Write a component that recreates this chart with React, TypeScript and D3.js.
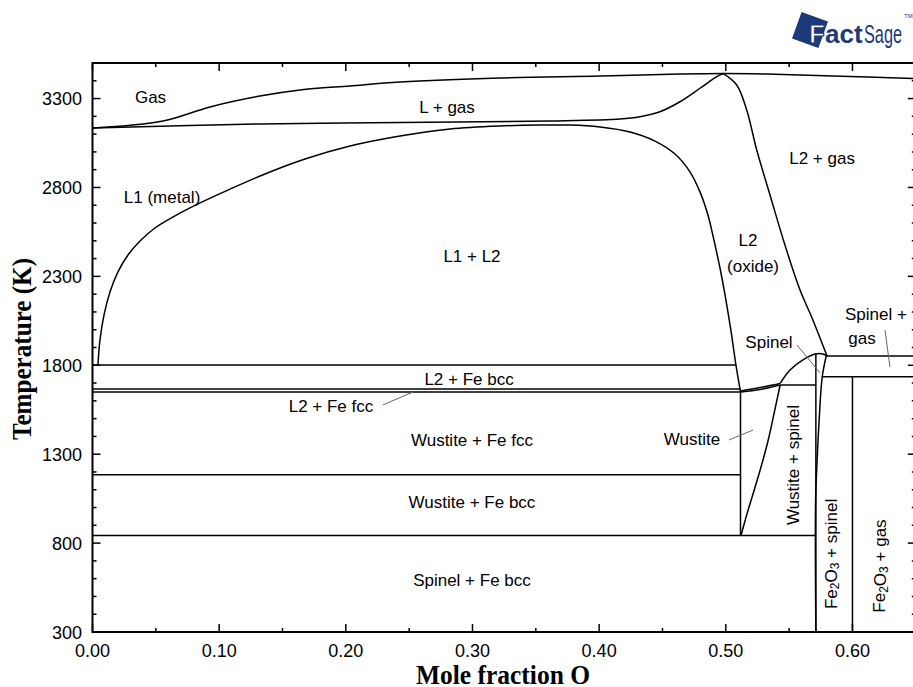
import React from 'react';
import * as d3 from 'd3';

const W = 913;
const H = 687;

// axis definitions
const xMajorTicks = [0, 0.1, 0.2, 0.3, 0.4, 0.5, 0.6];
const xTickLabels = ['0.00', '0.10', '0.20', '0.30', '0.40', '0.50', '0.60'];
const xMinorTicks = [0.05, 0.15, 0.25, 0.35, 0.45, 0.55];
const yMajorTicks = [300, 800, 1300, 1800, 2300, 2800, 3300];
const yMinorTicks = [400, 500, 600, 700, 900, 1000, 1100, 1200, 1400, 1500, 1600, 1700, 1900, 2000, 2100, 2200, 2400, 2500, 2600, 2700, 2900, 3000, 3100, 3200, 3400];

// phase boundaries [x (mole fraction O), T (K)]
const gasDewLine = [
  [0, 3135], [0.0557, 3174], [0.0928, 3253], [0.1322, 3314], [0.1638, 3348], [0.2033, 3371],
  [0.2428, 3393], [0.3217, 3416], [0.4007, 3427], [0.4639, 3438], [0.4978, 3441],
  [0.5325, 3438], [0.5846, 3427], [0.6502, 3413],
];
const liquidGasLine = [
  [0, 3135], [0.132, 3157], [0.243, 3165], [0.361, 3174], [0.4165, 3185], [0.4322, 3198],
  [0.448, 3226], [0.4638, 3282], [0.4796, 3358], [0.4928, 3423], [0.4978, 3441],
];
const l2Liquidus = [
  [0.4978, 3441], [0.5086, 3376], [0.5165, 3236], [0.5244, 3011], [0.5349, 2758],
  [0.5467, 2476], [0.5586, 2223], [0.5681, 2066], [0.5744, 1953], [0.5799, 1852],
];
const miscibilityGap = [
  [0.0043, 1802], [0.0059, 1942], [0.0091, 2083], [0.0138, 2212], [0.0201, 2325],
  [0.028, 2420], [0.0375, 2499], [0.0493, 2572], [0.0651, 2640], [0.0849, 2713],
  [0.1086, 2791], [0.1362, 2876], [0.1678, 2960], [0.2033, 3033], [0.2428, 3089],
  [0.2823, 3129], [0.3217, 3146], [0.3533, 3151], [0.377, 3151],
  [0.4007, 3140], [0.4244, 3112], [0.4441, 3061], [0.4599, 2988], [0.4717, 2888],
  [0.4796, 2775], [0.4859, 2645], [0.4906, 2505], [0.4954, 2347], [0.5001, 2167],
  [0.504, 1998], [0.508, 1802], [0.5116, 1650],
];
const wustiteRight = [
  [0.512, 843], [0.5167, 964], [0.5222, 1093], [0.5278, 1228], [0.5333, 1374], [0.538, 1526], [0.5429, 1689],
];
const wustiteLiquidus = [[0.512, 1656], [0.527, 1675], [0.5429, 1698]];
const wustiteSolidus = [[0.512, 1650], [0.527, 1664], [0.5429, 1689]];
const spinelLiquidus = [[0.5429, 1698], [0.5507, 1773], [0.5609, 1830], [0.5705, 1863], [0.5768, 1863], [0.5799, 1852]];
const spinelRight = [[0.5793, 1852], [0.5761, 1734], [0.5737, 1492], [0.5721, 1267], [0.5709, 1042], [0.5711, 300]];

// straight segments [x1, T1, x2, T2]
const segments = [
  [0, 1802, 0.508, 1802],
  [0, 1667, 0.5116, 1667],
  [0, 1650, 0.5116, 1650],
  [0, 1185, 0.5116, 1185],
  [0, 843, 0.5711, 843],
  [0.5116, 1650, 0.5116, 843],
  [0.5429, 1689, 0.5711, 1689],
  [0.5711, 1863, 0.5711, 300],
  [0.5799, 1852, 0.65, 1852],
  [0.5761, 1736, 0.65, 1736],
  [0.6, 1736, 0.6, 300],
];

// label pointers [x1, T1, x2, T2]
const pointers = [
  [0.2294, 1577, 0.253, 1650],
  [0.5025, 1380, 0.5215, 1436],
  [0.5562, 1914, 0.5744, 1757],
  [0.6257, 1998, 0.6296, 1790],
];

const labels = [
  { text: 'Gas', x: 0.0458, t: 3275 },
  { text: 'L + gas', x: 0.2799, t: 3219 },
  { text: 'L2 + gas', x: 0.576, t: 2932 },
  { text: 'L1 (metal)', x: 0.0549, t: 2713 },
  { text: 'L1 + L2', x: 0.2996, t: 2381 },
  { text: 'L2', x: 0.5175, t: 2471 },
  { text: '(oxide)', x: 0.5215, t: 2325 },
  { text: 'Spinel +', x: 0.6185, t: 2055 },
  { text: 'gas', x: 0.6075, t: 1920 },
  { text: 'Spinel', x: 0.5341, t: 1897 },
  { text: 'L2 + Fe bcc', x: 0.2973, t: 1689 },
  { text: 'L2 + Fe fcc', x: 0.1883, t: 1537 },
  { text: 'Wustite + Fe fcc', x: 0.2996, t: 1346 },
  { text: 'Wustite', x: 0.4733, t: 1352 },
  { text: 'Wustite + Fe bcc', x: 0.2996, t: 997 },
  { text: 'Spinel + Fe bcc', x: 0.2996, t: 559 },
];

const SANS = "'Liberation Sans', Arial, sans-serif";
const SERIF = "'Liberation Serif', 'Times New Roman', serif";
const BLUE = '#1d3a78';

export default function App() {
  const x = d3.scaleLinear().domain([0, 0.65]).range([92.5, 915.8]);
  const y = d3.scaleLinear().domain([300, 3500]).range([632, 63]);
  const smooth = d3.line<number[]>().x(d => x(d[0])).y(d => y(d[1])).curve(d3.curveCatmullRom.alpha(0.5));

  const curves = [gasDewLine, liquidGasLine, l2Liquidus, miscibilityGap, wustiteRight, wustiteLiquidus, wustiteSolidus, spinelLiquidus, spinelRight];

  const left = x(0), right = x(0.65), top = y(3500), bottom = y(300);

  return (
    <svg width={W} height={H} style={{ position: 'absolute', left: 0, top: 0, background: '#fff' }} fontFamily={SANS}>
      <rect x={0} y={0} width={W} height={H} fill="#fff" />
      {/* logo */}
      <g>
        <polygon points="818.4,48 828,21.6 801.6,12 792,38.4" fill={BLUE} />
        <text x={809} y={43} fontSize={26} fontWeight="bold" fill="#fff" stroke={BLUE} strokeWidth={1.2}>F</text>
        <text x={825} y={43} fontSize={26} fontWeight="bold" fill={BLUE}>act</text>
        <text x={864} y={43} fontSize={26} fill={BLUE} textLength={38} lengthAdjust="spacingAndGlyphs">Sage</text>
        <text x={904} y={18} fontSize={6} fill={BLUE}>TM</text>
      </g>

      {/* curves */}
      <g fill="none" stroke="#000" strokeWidth={1.5}>
        {curves.map((c, i) => <path key={i} d={smooth(c) || ''} />)}
        {segments.map((s, i) => (
          <line key={i} x1={x(s[0])} y1={y(s[1])} x2={x(s[2])} y2={y(s[3])} />
        ))}
      </g>
      <g stroke="#666" strokeWidth={1}>
        {pointers.map((p, i) => (
          <line key={i} x1={x(p[0])} y1={y(p[1])} x2={x(p[2])} y2={y(p[3])} />
        ))}
      </g>

      {/* axes frame */}
      <rect x={left} y={top} width={right - left} height={bottom - top} fill="none" stroke="#000" strokeWidth={2} />
      <g stroke="#000" strokeWidth={1.5}>
        {xMajorTicks.map(v => (
          <g key={'xm' + v}>
            <line x1={x(v)} x2={x(v)} y1={bottom} y2={bottom - 8} />
            <line x1={x(v)} x2={x(v)} y1={top} y2={top + 8} />
          </g>
        ))}
        {xMinorTicks.map(v => (
          <g key={'xn' + v}>
            <line x1={x(v)} x2={x(v)} y1={bottom} y2={bottom - 4} />
            <line x1={x(v)} x2={x(v)} y1={top} y2={top + 4} />
          </g>
        ))}
        {yMajorTicks.map(t => (
          <g key={'ym' + t}>
            <line x1={left} x2={left + 8} y1={y(t)} y2={y(t)} />
            <line x1={right} x2={right - 8} y1={y(t)} y2={y(t)} />
          </g>
        ))}
        {yMinorTicks.map(t => (
          <g key={'yn' + t}>
            <line x1={left} x2={left + 4} y1={y(t)} y2={y(t)} />
            <line x1={right} x2={right - 4} y1={y(t)} y2={y(t)} />
          </g>
        ))}
      </g>
      <g fontSize={18} fill="#000">
        {xMajorTicks.map((v, i) => (
          <text key={'xl' + v} x={x(v)} y={657} textAnchor="middle">{xTickLabels[i]}</text>
        ))}
        {yMajorTicks.map(t => (
          <text key={'yl' + t} x={82} y={y(t) + 6.5} textAnchor="end">{t}</text>
        ))}
      </g>
      <text x={503} y={684} textAnchor="middle" fontFamily={SERIF} fontWeight="bold" fontSize={27} textLength={174} lengthAdjust="spacingAndGlyphs">Mole fraction O</text>
      <text transform={`translate(31,349) rotate(-90)`} textAnchor="middle" fontFamily={SERIF} fontWeight="bold" fontSize={27} textLength={182} lengthAdjust="spacingAndGlyphs">Temperature (K)</text>

      {/* region labels */}
      <g fontSize={17} fill="#000" textAnchor="middle">
        {labels.map((l, i) => (
          <text key={i} x={x(l.x)} y={y(l.t)}>{l.text}</text>
        ))}
        <text transform={`translate(${x(0.5531)},${y(1239)}) rotate(-90)`} dominantBaseline="central">Wustite + spinel</text>
        <text transform={`translate(${x(0.5831)},${y(739)}) rotate(-90)`} dominantBaseline="central">
          Fe<tspan dy={4} fontSize={12}>2</tspan><tspan dy={-4}>O</tspan><tspan dy={4} fontSize={12}>3</tspan><tspan dy={-4}> + spinel</tspan>
        </text>
        <text transform={`translate(${x(0.6217)},${y(671)}) rotate(-90)`} dominantBaseline="central">
          Fe<tspan dy={4} fontSize={12}>2</tspan><tspan dy={-4}>O</tspan><tspan dy={4} fontSize={12}>3</tspan><tspan dy={-4}> + gas</tspan>
        </text>
      </g>
    </svg>
  );
}
